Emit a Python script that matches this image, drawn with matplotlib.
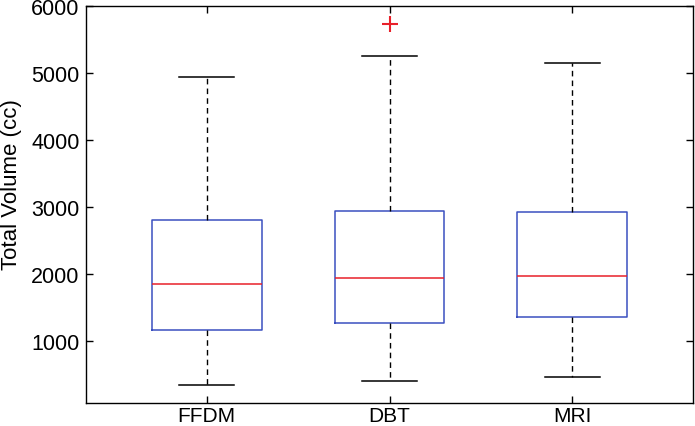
import matplotlib
matplotlib.use("Agg")
import matplotlib.pyplot as plt

categories = ["FFDM", "DBT", "MRI"]
whisker_low = [353, 413, 463]
q1 = [1173, 1273, 1358]
median = [1859, 1949, 1974]
q3 = [2809, 2943, 2928]
whisker_high = [4941, 5250, 5155]
outliers = [[], [5727], []]
yticks = [1000, 2000, 3000, 4000, 5000, 6000]

plt.rcParams['font.family'] = ['Liberation Sans', 'DejaVu Sans']

fig = plt.figure(figsize=(6.95, 4.27), dpi=100)
ax = fig.add_axes([86/695, 1-404/427, (693-86)/695, (404-7)/427])

stats = []
for i, c in enumerate(categories):
    stats.append(dict(label=c, whislo=whisker_low[i], q1=q1[i], med=median[i],
                      q3=q3[i], whishi=whisker_high[i], fliers=outliers[i]))

ax.bxp(stats, positions=[1, 2, 3], widths=0.6, showfliers=True,
       boxprops=dict(color='#3a4fc0', linewidth=1.1),
       medianprops=dict(color='#e8202a', linewidth=1.1),
       whiskerprops=dict(color='black', linewidth=1.0, linestyle=(0, (4, 3))),
       capprops=dict(color='black', linewidth=1.1),
       flierprops=dict(marker='+', markeredgecolor='#e8202a', markersize=11,
                       markeredgewidth=1.5))

ax.set_xlim(0.34, 3.66)
ax.set_ylim(80, 6000)
ax.set_yticks(yticks)
ax.set_yticklabels([str(v) for v in yticks])
ax.set_xticks([1, 2, 3])
ax.set_xticklabels(categories)
ax.tick_params(direction='in', length=5, width=1, top=True, right=True,
               labelsize=15.5, pad=4.5)
ax.tick_params(axis='x', pad=2.5, labelsize=15)
ax.set_ylabel("Total Volume (cc)", fontsize=16)
ax.yaxis.set_label_coords(-64/607, (404-185)/397)
for s in ax.spines.values():
    s.set_linewidth(1.0)

fig.savefig("out.png", dpi=100)
